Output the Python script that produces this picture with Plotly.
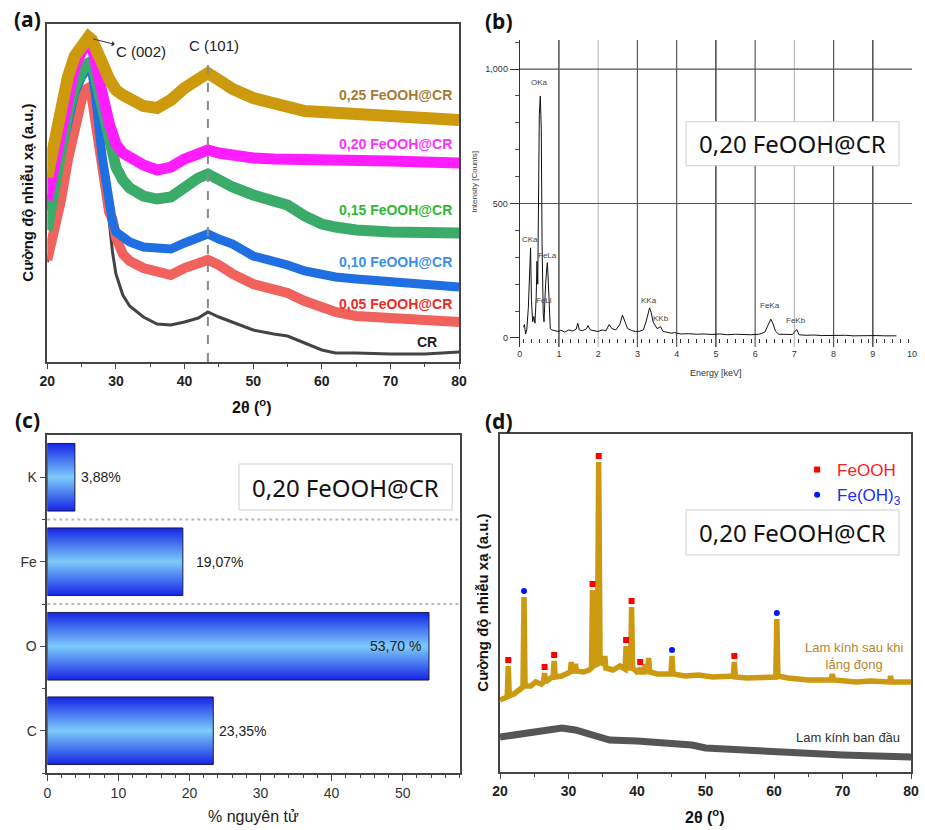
import plotly.graph_objects as go

W, H = 925, 830


def fx(p):
    return p / W


def fy(p):
    return 1 - p / H


FONT = "Arial, Liberation Sans, sans-serif"
BOXFONT = "Noto Sans, Open Sans, sans-serif"

# ---------------- (a) XRD of carbon cloth with FeOOH loadings ----------------
two_theta_a = [20, 21, 22, 23, 24, 25, 25.5, 26, 26.5, 27, 28, 29, 29.5, 30, 31, 32, 34, 36, 38,
               40, 42, 43.4, 45, 47, 50, 53, 55, 57.5, 60, 62, 65, 70, 75, 80]
xrd_cr = [100, 126, 158, 198, 230, 258, 268, 270, 258, 235, 176, 142, 110, 88, 67, 56, 45, 38, 37,
          40, 44, 50, 45, 40, 32, 28, 26, 19, 12, 9, 9, 8, 8, 10]
xrd_005 = [102, 129, 162, 202, 235, 262, 272, 274, 264, 240, 195, 150, 143, 125, 108, 101, 94, 90, 87,
           94, 99, 102, 97, 88, 78, 73, 69, 61, 54, 50, 46, 44, 41, 40]
xrd_010 = [152, 175, 209, 242, 269, 285, 291, 295, 290, 268, 205, 160, 140, 130, 124, 120, 115, 113, 113,
           119, 124, 128, 123, 118, 106, 101, 97, 91, 87, 85, 83, 80, 78, 75]
xrd_015 = [132, 175, 215, 249, 275, 292, 297, 299, 297, 285, 252, 219, 205, 195, 182, 174, 166, 163, 165,
           175, 184, 188, 182, 175, 167, 162, 157, 146, 138, 135, 132, 130, 129, 129]
xrd_020 = [162, 199, 235, 269, 295, 310, 316, 320, 316, 303, 269, 239, 226, 218, 209, 204, 197, 192, 195,
           203, 209, 212, 209, 206, 204, 203, 203, 203, 203, 202, 202, 201, 200, 199]
xrd_025 = [185, 219, 255, 285, 306, 318, 322, 325, 322, 316, 299, 283, 277, 272, 267, 263, 256, 254, 262,
           274, 285, 289, 282, 273, 264, 259, 256, 251, 250, 249, 248, 247, 245, 242]
sample_names = ["CR", "0,05 FeOOH@CR", "0,10 FeOOH@CR", "0,15 FeOOH@CR", "0,20 FeOOH@CR", "0,25 FeOOH@CR"]
c101_position = 43.4

# ---------------- (b) EDS spectrum, 0,20 FeOOH@CR ----------------
eds_energy = [0.10, 0.12, 0.15, 0.18, 0.22, 0.25, 0.277, 0.30, 0.33, 0.36, 0.39, 0.42, 0.44, 0.46, 0.48,
              0.50, 0.525, 0.55, 0.57, 0.58, 0.60, 0.62, 0.64, 0.66, 0.69, 0.705, 0.72, 0.75, 0.78, 0.82,
              0.90, 0.98, 1.05, 1.15, 1.25, 1.35, 1.44, 1.48, 1.52, 1.60, 1.70, 1.74, 1.80, 1.90, 2.00,
              2.10, 2.20, 2.28, 2.35, 2.45, 2.55, 2.62, 2.68, 2.75, 2.85, 2.95, 3.05, 3.15, 3.22, 3.28,
              3.31, 3.35, 3.40, 3.50, 3.59, 3.65, 3.75, 3.85, 3.95, 4.10, 4.30, 4.50, 4.70, 4.90, 5.10,
              5.30, 5.50, 5.70, 5.90, 6.10, 6.25, 6.32, 6.36, 6.40, 6.45, 6.52, 6.60, 6.80, 6.95, 7.06,
              7.12, 7.30, 7.50, 7.70, 7.90, 8.10, 8.30, 8.50, 8.70, 8.90, 9.10, 9.30, 9.50, 9.60]
eds_counts = [40, 50, 15, 30, 110, 220, 335, 140, 60, 80, 55, 150, 285, 200, 600,
              830, 900, 780, 350, 250, 90, 60, 140, 200, 260, 280, 240, 110, 35, 30,
              28, 24, 29, 22, 30, 26, 33, 55, 30, 27, 34, 46, 30, 27, 24,
              30, 27, 50, 35, 30, 50, 85, 60, 35, 28, 24, 25, 30, 60, 100,
              112, 95, 60, 35, 42, 25, 22, 18, 20, 15, 16, 14, 15, 13, 15,
              12, 14, 13, 12, 14, 22, 45, 60, 70, 55, 25, 14, 12, 13, 32,
              12, 10, 11, 9, 10, 9, 10, 8, 9, 8, 9, 8, 9, 8]
eds_peak_names = ["OKa", "CKa", "FeLa", "FeLl", "KKa", "KKb", "FeKa", "FeKb"]
eds_peak_energy = [0.51, 0.275, 0.72, 0.63, 3.30, 3.60, 6.39, 7.05]
eds_peak_label_y = [949, 367, 305, 139, 138, 73, 119, 64]

# ---------------- (c) atomic composition ----------------
elements = ["C", "O", "Fe", "K"]
atomic_pct = [23.35, 53.70, 19.07, 3.88]

# ---------------- (d) XRD of glass slide before / after deposition ----------------
two_theta_d = [20.0, 20.6, 21.05, 21.2, 21.35, 22.0, 22.8, 23.35, 23.5, 23.65, 24.5, 25.2, 26.0, 26.35,
               26.5, 26.65, 27.4, 27.75, 27.9, 28.05, 29.0, 29.8, 30.25, 30.4, 30.55, 30.85, 31.0, 31.15,
               32.2, 33.0, 33.35, 33.5, 33.65, 34.2, 34.4, 34.6, 35.15, 35.3, 35.45, 36.5, 37.5, 38.25,
               38.4, 38.55, 39.05, 39.2, 39.35, 40.0, 40.3, 40.45, 40.6, 41.05, 41.2, 41.35, 41.55, 41.7,
               41.85, 43.0, 44.95, 45.1, 45.25, 47.0, 49.0, 51.0, 54.05, 54.2, 54.35, 56.0, 58.0, 60.25,
               60.4, 60.55, 62.0, 65.0, 68.3, 68.5, 68.7, 72.0, 74.0, 76.85, 77.0, 77.15, 80.0]
slide_after = [72, 74, 75, 106, 76, 78, 82, 85, 175, 86, 86, 90, 88, 90,
               99, 90, 94, 95, 111, 95, 96, 98, 100, 110, 101, 101, 108, 101,
               100, 102, 104, 182, 106, 108, 310, 110, 108, 116, 104, 102, 106, 103,
               126, 104, 104, 165, 104, 100, 101, 104, 100, 100, 108, 103, 103, 114,
               100, 98, 98, 116, 98, 96, 97, 95, 96, 110, 95, 94, 95, 95,
               153, 96, 94, 92, 92, 98, 92, 90, 91, 90, 96, 90, 90]
two_theta_blank = [20, 22, 25, 27, 29, 31, 32, 34, 36, 40, 45, 48, 50, 55, 60, 65, 70, 75, 80]
slide_before = [35, 37, 40, 42, 44, 42, 40, 36, 32, 31, 29, 27, 24, 22, 20, 19, 17, 16, 15]
feooh_tt = [21.2, 26.5, 27.9, 33.5, 34.4, 38.4, 39.2, 40.45, 54.2]
feooh_mark = [112, 105, 117, 188, 316, 132, 171, 110, 116]
feoh3_tt = [23.5, 45.1, 60.4]
feoh3_mark = [181, 122, 159]

fig = go.Figure()

# (a) curves
colors_a = ["#444444", "#f2625c", "#1f6fe2", "#3aab68", "#ff1cff", "#cc9a0c"]
widths_a = [3.0, 10, 9, 11, 11, 12]
for name, ys, col, w in zip(sample_names, [xrd_cr, xrd_005, xrd_010, xrd_015, xrd_020, xrd_025],
                            colors_a, widths_a):
    fig.add_trace(go.Scatter(x=two_theta_a, y=ys, mode="lines", name=name,
                             line=dict(color=col, width=w), xaxis="x", yaxis="y", showlegend=False))

# (b) spectrum, plus an empty trace so the baseline tick row axis is drawn
fig.add_trace(go.Scatter(x=eds_energy, y=eds_counts, mode="lines", line=dict(color="#111111", width=1),
                         xaxis="x2", yaxis="y2", showlegend=False))
fig.add_trace(go.Scatter(x=[], y=[], mode="lines", xaxis="x5", yaxis="y2", showlegend=False,
                         hoverinfo="skip"))

# (c) gradient bars
for i, (el, v) in enumerate(zip(elements, atomic_pct)):
    lo, hi = i - 0.4, i + 0.4
    fig.add_trace(go.Scatter(
        x=[0, v, v, 0, 0], y=[lo, lo, hi, hi, lo], mode="lines", fill="toself",
        line=dict(color="#1a1a4a", width=1),
        fillgradient=dict(type="vertical", start=lo, stop=hi,
                          colorscale=[[0, "#1424e6"], [0.5, "#7dcbfb"], [1, "#1424e6"]]),
        xaxis="x3", yaxis="y3", showlegend=False, hoverinfo="skip"))

# (d) curves and phase markers
fig.add_trace(go.Scatter(x=two_theta_blank, y=slide_before, mode="lines", line=dict(color="#555555", width=7),
                         xaxis="x4", yaxis="y4", showlegend=False))
fig.add_trace(go.Scatter(x=two_theta_d, y=slide_after, mode="lines", line=dict(color="#cc9a10", width=5.5),
                         xaxis="x4", yaxis="y4", showlegend=False))
fig.add_trace(go.Scatter(x=feooh_tt, y=feooh_mark, mode="markers",
                         marker=dict(symbol="square", color="#ff0000", size=6),
                         name="<span style='color:#ff1a1a'>FeOOH</span>", xaxis="x4", yaxis="y4"))
fig.add_trace(go.Scatter(x=feoh3_tt, y=feoh3_mark, mode="markers",
                         marker=dict(symbol="circle", color="#0018ff", size=6),
                         name="<span style='color:#1a2cff'>Fe(OH)<sub>3</sub></span>", xaxis="x4", yaxis="y4"))

frame = dict(showline=True, mirror=True, linecolor="#454545", linewidth=1.5, showgrid=False, zeroline=False)
bold_tick = dict(family=FONT, size=14, color="#222222", weight="bold")

layout = dict(
    width=W, height=H, margin=dict(l=0, r=0, t=0, b=0),
    paper_bgcolor="white", plot_bgcolor="white", font=dict(family=FONT),
    xaxis=dict(domain=[fx(40), fx(459)], range=[20, 80], anchor="y", dtick=10, tick0=20,
               ticks="outside", ticklen=5, tickwidth=1.3, tickcolor="#454545",
               minor=dict(ticks="outside", dtick=5, tick0=20, ticklen=3, tickcolor="#454545"),
               tickfont=bold_tick, **frame),
    yaxis=dict(domain=[fy(362), fy(24)], range=[0, 338], anchor="x", showticklabels=False, ticks="", **frame),
    xaxis2=dict(domain=[fx(520.7), fx(920)], range=[0, 10], anchor="y2", dtick=1, ticks="",
                showline=False, showgrid=False, zeroline=False,
                tickfont=dict(family=FONT, size=9, color="#333333")),
    yaxis2=dict(domain=[fy(347), fy(40)], range=[-33.5, 1108], anchor="x2", dtick=500, tickformat=",d",
                ticks="outside", ticklen=9, tickcolor="#333333", showline=True, linecolor="#333333",
                linewidth=1, showgrid=False, zeroline=False,
                minor=dict(ticks="outside", dtick=100, ticklen=4, tickcolor="#555555"),
                tickfont=dict(family=FONT, size=9, color="#333333")),
    xaxis5=dict(overlaying="x2", anchor="free", position=fy(338), range=[0, 10], tick0=0.1, dtick=0.2,
                ticks="outside", ticklen=4, tickcolor="#333333", showticklabels=False,
                showline=False, showgrid=False, zeroline=False),
    xaxis3=dict(domain=[fx(40), fx(460)], range=[0, 58.07], anchor="y3", dtick=10,
                ticks="outside", ticklen=6, tickcolor="#454545",
                minor=dict(ticks="outside", dtick=2, ticklen=3, tickcolor="#454545"),
                tickfont=dict(family=FONT, size=14, color="#333333"), **frame),
    yaxis3=dict(domain=[fy(773), fy(435)], range=[-0.5, 3.5], anchor="x3",
                tickvals=[0, 1, 2, 3], ticktext=elements, ticks="outside", ticklen=6, tickcolor="#454545",
                minor=dict(tickvals=[-0.5, 0.5, 1.5, 2.5], ticks="outside", ticklen=4, tickcolor="#454545"),
                tickfont=dict(family=FONT, size=14, color="#333333"), **frame),
    xaxis4=dict(domain=[fx(500.7), fx(919)], range=[20, 80], anchor="y4", dtick=10, tick0=20,
                ticks="outside", ticklen=5, tickwidth=1.3, tickcolor="#454545",
                minor=dict(ticks="outside", dtick=5, tick0=20, ticklen=3, tickcolor="#454545"),
                tickfont=bold_tick, **frame),
    yaxis4=dict(domain=[fy(772), fy(434)], range=[0, 338], anchor="x4", showticklabels=False, ticks="", **frame),
    legend=dict(x=fx(803), y=fy(452), xanchor="left", yanchor="top", bgcolor="rgba(0,0,0,0)",
                font=dict(family=FONT, size=17), itemsizing="trace", tracegroupgap=0),
)

shapes = []
# (a) C(101) reference line
shapes.append(dict(type="line", xref="x", yref="y", x0=c101_position, x1=c101_position, y0=0, y1=302,
                   line=dict(color="#8a8a8a", width=2, dash="dash")))
# (b) grid
shade = {1: "#222222", 2: "#bdbdbd", 3: "#5a5a5a", 4: "#5a5a5a", 5: "#1a1a1a",
         6: "#5a5a5a", 7: "#bdbdbd", 8: "#5a5a5a", 9: "#222222"}
for k in range(1, 10):
    shapes.append(dict(type="line", xref="x2", yref="y2 domain", x0=k, x1=k, y0=0, y1=1, layer="below",
                       line=dict(color=shade[k], width=1.2)))
for level in (500, 1000):
    shapes.append(dict(type="line", xref="x2 domain", yref="y2", x0=0, x1=1, y0=level, y1=level, layer="below",
                       line=dict(color="#555555", width=1.2)))
# (c) dotted separators
for yb in (1.5, 2.5):
    shapes.append(dict(type="line", xref="x3 domain", yref="y3", x0=0, x1=1, y0=yb, y1=yb, layer="below",
                       line=dict(color="#bbbbbb", width=2, dash="dot")))
# sample name boxes
boxes = [(690, 121.7, 906.7, 165.7), (235, 464, 452, 510), (690, 510, 906.7, 555)]
for x0, y0, x1, y1 in boxes:
    shapes.append(dict(type="rect", xref="paper", yref="paper", x0=fx(x0), x1=fx(x1), y0=fy(y1), y1=fy(y0),
                       fillcolor="white", line=dict(color="#cfcfcf", width=1), layer="above"))
layout["shapes"] = shapes

ann = []


def paper_text(text, x, y, size, color="#111111", weight="normal", family=FONT, angle=0, align="center"):
    ann.append(dict(text=text, xref="paper", yref="paper", x=fx(x), y=fy(y), xanchor="center",
                    yanchor="middle", showarrow=False, textangle=angle, align=align,
                    font=dict(family=family, size=size, color=color, weight=weight)))


# panel tags
for tag, x, y in [("(a)", 20, 19), ("(b)", 500, 21), ("(c)", 20, 420), ("(d)", 500, 421)]:
    paper_text(tag, x, y, 21, weight="bold", family=BOXFONT)
# box texts
for x0, y0, x1, y1 in boxes:
    paper_text("0,20 FeOOH@CR", (x0 + x1) / 2, (y0 + y1) / 2, 24, family=BOXFONT)

# (a) texts
label_y_a = [20, 58, 100, 152, 218, 267]
label_col_a = ["#222222", "#ee2a24", "#3b8fe8", "#2fb832", "#ff30ff", "#a67a34"]
for name, ly, lc in zip(sample_names, label_y_a, label_col_a):
    ann.append(dict(text=name, xref="x", yref="y", x=77.1 if name == "CR" else 79.2, y=ly,
                    xanchor="right", yanchor="middle", showarrow=False,
                    font=dict(family=FONT, size=14, color=lc, weight="bold")))
ann.append(dict(text="C (002)", xref="x", yref="y", x=26.7, y=323, ax=48, ay=12, showarrow=True,
                arrowside="start", arrowhead=2, arrowsize=0.9, arrowwidth=1, arrowcolor="#333333",
                font=dict(family=FONT, size=15, color="#222222")))
ann.append(dict(text="C (101)", xref="x", yref="y", x=44.3, y=317, showarrow=False,
                xanchor="center", yanchor="middle", font=dict(family=FONT, size=15, color="#222222")))
paper_text("Cường độ nhiễu xạ (a.u.)", 20, 193, 15, weight="bold", angle=-90)
paper_text("2θ (<sup>o</sup>)", 248, 406, 16, weight="bold")

# (b) texts
for nm, ex, ey in zip(eds_peak_names, eds_peak_energy, eds_peak_label_y):
    ann.append(dict(text=nm, xref="x2", yref="y2", x=ex, y=ey, showarrow=False,
                    xanchor="center", yanchor="middle", font=dict(family=FONT, size=8, color="#444444")))
paper_text("Energy [keV]", 720, 373, 9, color="#333333")
paper_text("Intensity [Counts]", 474, 182, 8, color="#444444", angle=-90)

# (c) value labels
for i, v in enumerate(atomic_pct):
    txt = f"{v:.2f}".replace(".", ",")
    if v > 40:
        ann.append(dict(text=txt + " %", xref="x3", yref="y3", x=v, y=i, xanchor="right", yanchor="middle",
                        xshift=-6, showarrow=False, font=dict(family=FONT, size=14, color="#222222")))
    else:
        ann.append(dict(text=txt + "%", xref="x3", yref="y3", x=v, y=i, xanchor="left", yanchor="middle",
                        xshift=11 if i == 2 else 4, showarrow=False,
                        font=dict(family=FONT, size=14, color="#222222")))
paper_text("% nguyên tử", 250, 816, 16, color="#222222")

# (d) texts
paper_text("Lam kính sau khi<br>lắng đọng", 861, 656, 13, color="#b8862c")
paper_text("Lam kính ban đầu", 855, 737, 13, color="#333333")
paper_text("Cường độ nhiễu xạ (a.u.)", 482, 603, 15, weight="bold", angle=-90)
paper_text("2θ (<sup>o</sup>)", 709, 816, 16, weight="bold")
layout["annotations"] = ann

fig.update_layout(**layout)
fig.write_html("out.html")
